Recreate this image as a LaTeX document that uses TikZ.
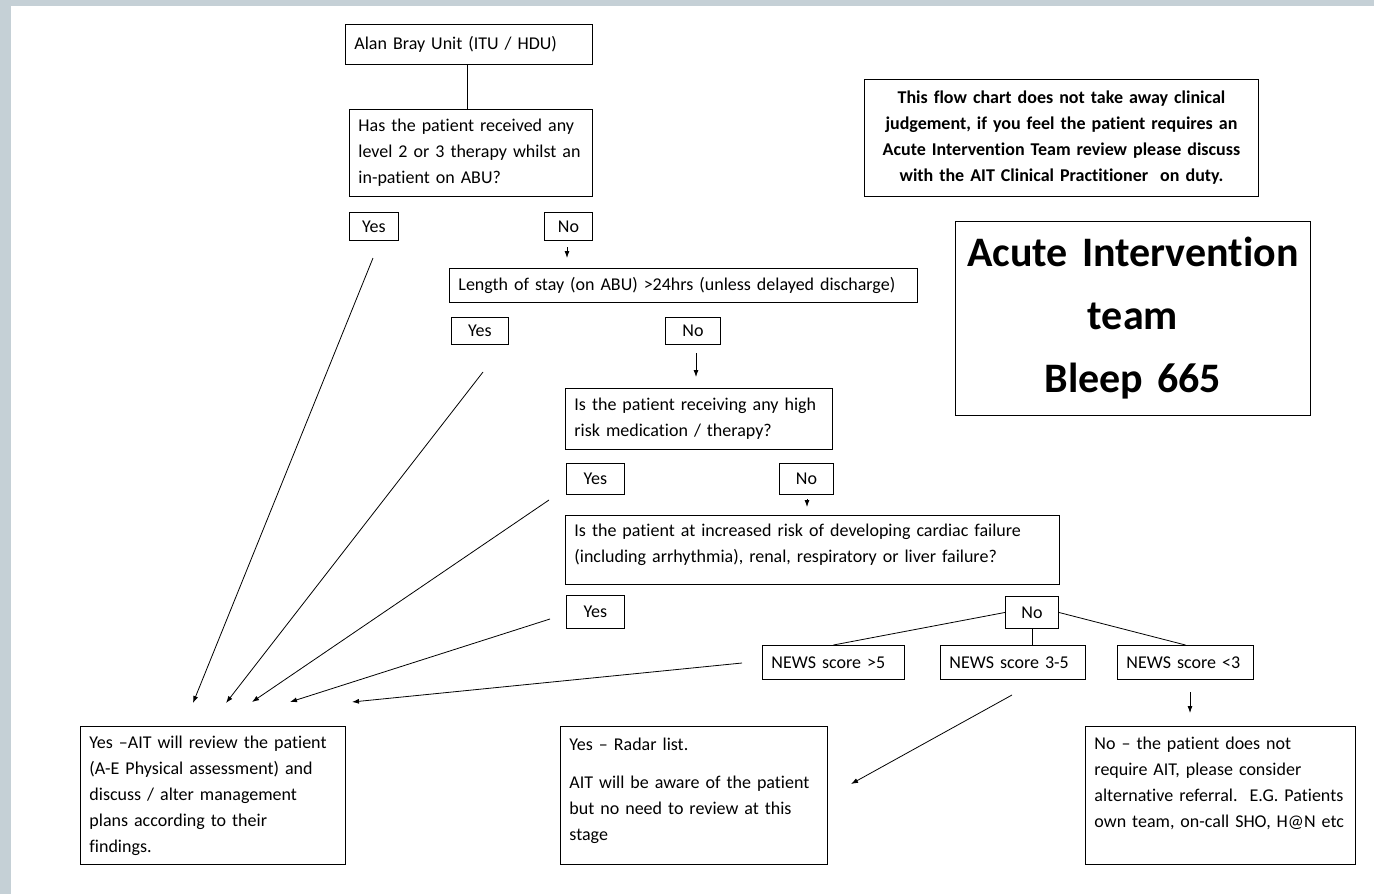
\documentclass[tikz,border=0pt]{standalone}
\usepackage{fontspec}
\setmainfont{Carlito}[Ligatures=NoCommon]
\usetikzlibrary{arrows.meta}
\definecolor{frame}{RGB}{197,208,214}
\newcommand{\bodyfont}{\fontsize{18}{26}\selectfont}
\newcommand{\notefont}{\fontsize{18}{26}\selectfont\bfseries}
\newcommand{\bigfont}{\fontsize{42}{63}\selectfont\bfseries}
\begin{document}
\begin{tikzpicture}[x=1pt,y=-1pt,
  box/.style={draw, line width=0.9pt, anchor=north west, inner xsep=9pt, inner ysep=0pt, align=left, font=\bodyfont},
  yn/.style={box, inner xsep=4pt, align=center},
  arr/.style={line width=0.8pt, -{Latex[length=7pt,width=5pt]}}]
\useasboundingbox (0,0) rectangle (1374,894);
\fill[white] (0,0) rectangle (1374,894);
\fill[frame] (0,0) rectangle (1374,6);
\fill[frame] (0,0) rectangle (11,894);
% question column
\node[box, text width=229pt, minimum height=40pt] (abu) at (345,24) {Alan Bray Unit (ITU / HDU)};
\node[box, text width=225pt, minimum height=87pt] (q1) at (349,109) {Has the patient received any\\level 2 or 3 therapy whilst an\\in-patient on ABU?};
\node[yn, text width=41pt, minimum height=28pt] (yes1) at (349,212) {Yes};
\node[yn, text width=40pt, minimum height=28pt] (no1) at (544,212) {No};
\node[box, text width=450pt, minimum height=34pt] (stay) at (449,268) {Length of stay (on ABU) >24hrs (unless delayed discharge)};
\node[yn, text width=49pt, minimum height=27pt] (yes2) at (451,317) {Yes};
\node[yn, text width=47pt, minimum height=27pt] (no2) at (665,317) {No};
\node[box, text width=249pt, minimum height=61pt] (q3) at (565,388) {Is the patient receiving any high\\risk medication / therapy?};
\node[yn, text width=50pt, minimum height=31pt] (yes3) at (566,463) {Yes};
\node[yn, text width=46pt, minimum height=31pt] (no3) at (779,463) {No};
\node[box, text width=476pt, minimum height=69pt] (q4) at (565,515) {Is the patient at increased risk of developing cardiac failure\\(including arrhythmia), renal, respiratory or liver failure?\\[-12pt]\mbox{}};
\node[yn, text width=50pt, minimum height=33pt] (yes4) at (566,595) {Yes};
\node[yn, text width=45pt, minimum height=32pt] (no4) at (1005,596) {No};
\node[box, text width=124pt, minimum height=34pt] (news5) at (762,645) {NEWS score >5};
\node[box, text width=127pt, minimum height=34pt] (news35) at (940,645) {NEWS score 3-5};
\node[box, text width=118pt, minimum height=34pt] (news3) at (1117,645) {NEWS score <3};
% outcomes
\node[box, text width=247pt, minimum height=138pt] (review) at (80,726) {Yes –AIT will review the patient\\(A-E Physical assessment) and\\discuss / alter management\\plans according to their\\findings.};
\node[box, text width=249pt, minimum height=138pt] (radar) at (560,726) {Yes – Radar list.\\[12pt]AIT will be aware of the patient\\but no need to review at this\\stage\\[-14pt]\mbox{}};
\node[box, text width=252pt, minimum height=138pt] (refer) at (1085,726) {No – the patient does not\\require AIT, please consider\\alternative referral.\ \ E.G. Patients\\own team, on-call SHO, H@N etc\\\mbox{}};
% side notes
\node[box, align=center, font=\notefont, text width=376pt, minimum height=117pt] (note) at (864,79) {This flow chart does not take away clinical\\judgement, if you feel the patient requires an\\Acute Intervention Team review please discuss\\with the AIT Clinical Practitioner\ \ on duty.};
\node[box, align=center, font=\bigfont, inner xsep=0pt, text width=355pt, minimum height=194pt] (ait) at (955,221) {Acute Intervention\\team\\Bleep 665};
% free ends of the arrows
\coordinate (yes1 out) at (373,258);
\coordinate (yes2 out) at (483,372);
\coordinate (yes3 out) at (549,500);
\coordinate (yes4 out) at (550,619);
\coordinate (news5 out) at (742,663);
\coordinate (in1) at (193,703);
\coordinate (in2) at (226,703);
\coordinate (in3) at (252,702);
\coordinate (in4) at (290,702);
\coordinate (in5) at (352,702);
\coordinate (no1 out) at (567,247);
\coordinate (no1 in) at (567,258);
\coordinate (no2 out) at (696,353);
\coordinate (no2 in) at (696,377);
\coordinate (no3 out) at (807,499);
\coordinate (no3 in) at (807,507);
\coordinate (news35 out) at (1012,695);
\coordinate (news35 in) at (851,784);
\coordinate (news3 out) at (1190,692);
\coordinate (news3 in) at (1190,713);
% connectors
\draw[line width=0.9pt] ([xshift=-2pt]abu.south) -- ([xshift=-2pt]abu.south |- q1.north);
\draw[arr] (no1 out) -- (no1 in);
\draw[arr] (no2 out) -- (no2 in);
\draw[arr] (no3 out) -- (no3 in);
\draw[line width=0.8pt] (no4.west) -- (news5.north);
\draw[line width=0.8pt] (no4.south) -- (no4.south |- news35.north);
\draw[line width=0.8pt] (no4.east) -- (news3.north);
\draw[arr] (yes1 out) -- (in1);
\draw[arr] (yes2 out) -- (in2);
\draw[arr] (yes3 out) -- (in3);
\draw[arr] (yes4 out) -- (in4);
\draw[arr] (news5 out) -- (in5);
\draw[arr] (news35 out) -- (news35 in);
\draw[arr] (news3 out) -- (news3 in);
\end{tikzpicture}
\end{document}
